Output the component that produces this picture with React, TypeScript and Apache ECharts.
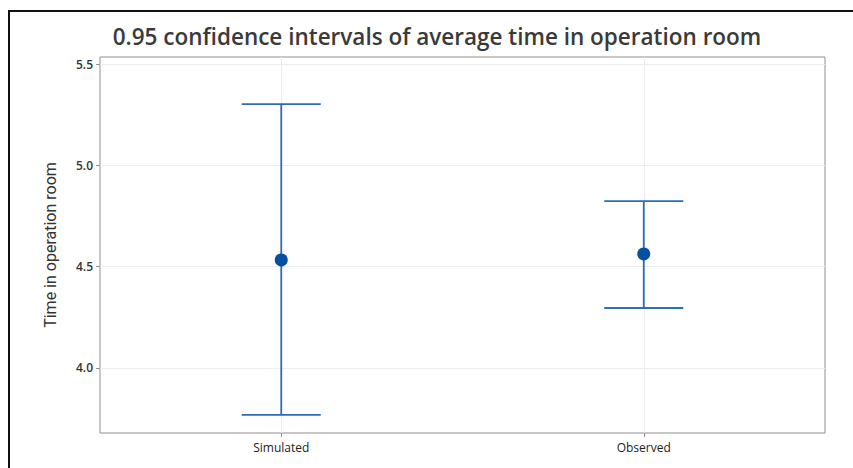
import React, { useEffect, useRef } from "react";
import * as echarts from "echarts";

const categories = ["Simulated", "Observed"];
const means = [4.533, 4.563];
const lowers = [3.768, 4.296];
const uppers = [5.302, 4.824];
const yTicks = [4.0, 4.5, 5.0, 5.5];

export default function App() {
  const ref = useRef<HTMLDivElement>(null);
  useEffect(() => {
    if (!ref.current) return;
    const chart = echarts.init(ref.current, undefined, { renderer: "svg" });
    const lineColor = "#2d6cb8";
    const pointColor = "#0650a2";
    chart.setOption({
      animation: false,
      backgroundColor: "#ffffff",
      title: {
        text: "0.95 confidence intervals of average time in operation room",
        left: 432,
        textAlign: "center",
        top: 20,
        textStyle: {
          fontFamily: "Open Sans",
          fontSize: 22.5,
          fontWeight: 600,
          color: "#3a3a3a",
        },
      },
      graphic: [
        {
          type: "rect",
          shape: { x: 9, y: 11, width: 860, height: 470 },
          style: { fill: "none", stroke: "#111", lineWidth: 2 },
          silent: true,
        },
      ],
      grid: {
        left: 100,
        right: 28,
        top: 57,
        bottom: 35,
        show: true,
        borderColor: "#8f8f8f",
        borderWidth: 1,
      },
      xAxis: {
        type: "category",
        data: categories,
        boundaryGap: true,
        axisLine: { show: false },
        axisTick: { show: true, alignWithLabel: true, length: 4, lineStyle: { color: "#8f8f8f" } },
        splitLine: { show: false },
        axisLabel: {
          fontFamily: "Open Sans",
          fontSize: 12,
          fontWeight: 500,
          color: "#222",
          margin: 8,
        },
      },
      yAxis: {
        type: "value",
        min: 3.679,
        max: 5.535,
        name: "Time in operation room",
        nameLocation: "middle",
        nameGap: 42,
        nameTextStyle: {
          fontFamily: "Liberation Sans Narrow, Roboto",
          fontSize: 16,
          color: "#333",
        },
        axisLine: { show: false },
        axisTick: { show: true, length: 4, customValues: yTicks, lineStyle: { color: "#8f8f8f" } },
        splitLine: { show: false },
        axisLabel: {
          customValues: yTicks,
          formatter: (v: number) => v.toFixed(1),
          fontFamily: "Open Sans",
          fontSize: 12,
          fontWeight: 600,
          color: "#333",
          margin: 7,
        },
      },
      series: [
        {
          type: "line",
          data: [],
          silent: true,
          z: 1,
          markLine: {
            silent: true,
            symbol: "none",
            label: { show: false },
            lineStyle: { color: "#ececec", width: 1, type: "solid" },
            data: [
              ...yTicks.map((v) => ({ yAxis: v })),
              ...categories.map((c) => ({ xAxis: c })),
            ],
          },
        },
        {
          type: "custom",
          z: 5,
          data: categories.map((c, i) => [i, lowers[i], uppers[i]]),
          renderItem: (params: any, api: any) => {
            const idx = api.value(0);
            const lo = api.coord([idx, api.value(1)]);
            const hi = api.coord([idx, api.value(2)]);
            const hw = 39.5;
            const style = { stroke: lineColor, lineWidth: 1.8 };
            return {
              type: "group",
              children: [
                { type: "line", shape: { x1: hi[0], y1: hi[1], x2: lo[0], y2: lo[1] }, style },
                { type: "line", shape: { x1: hi[0] - hw, y1: hi[1], x2: hi[0] + hw, y2: hi[1] }, style },
                { type: "line", shape: { x1: lo[0] - hw, y1: lo[1], x2: lo[0] + hw, y2: lo[1] }, style },
              ],
            };
          },
        },
        {
          type: "scatter",
          z: 6,
          symbol: "circle",
          symbolSize: 13,
          itemStyle: { color: pointColor, opacity: 1 },
          data: categories.map((c, i) => [i, means[i]]),
        },
      ],
    });
    return () => chart.dispose();
  }, []);
  return (
    <div
      ref={ref}
      style={{ position: "absolute", left: 0, top: 0, width: 853, height: 468 }}
    />
  );
}
